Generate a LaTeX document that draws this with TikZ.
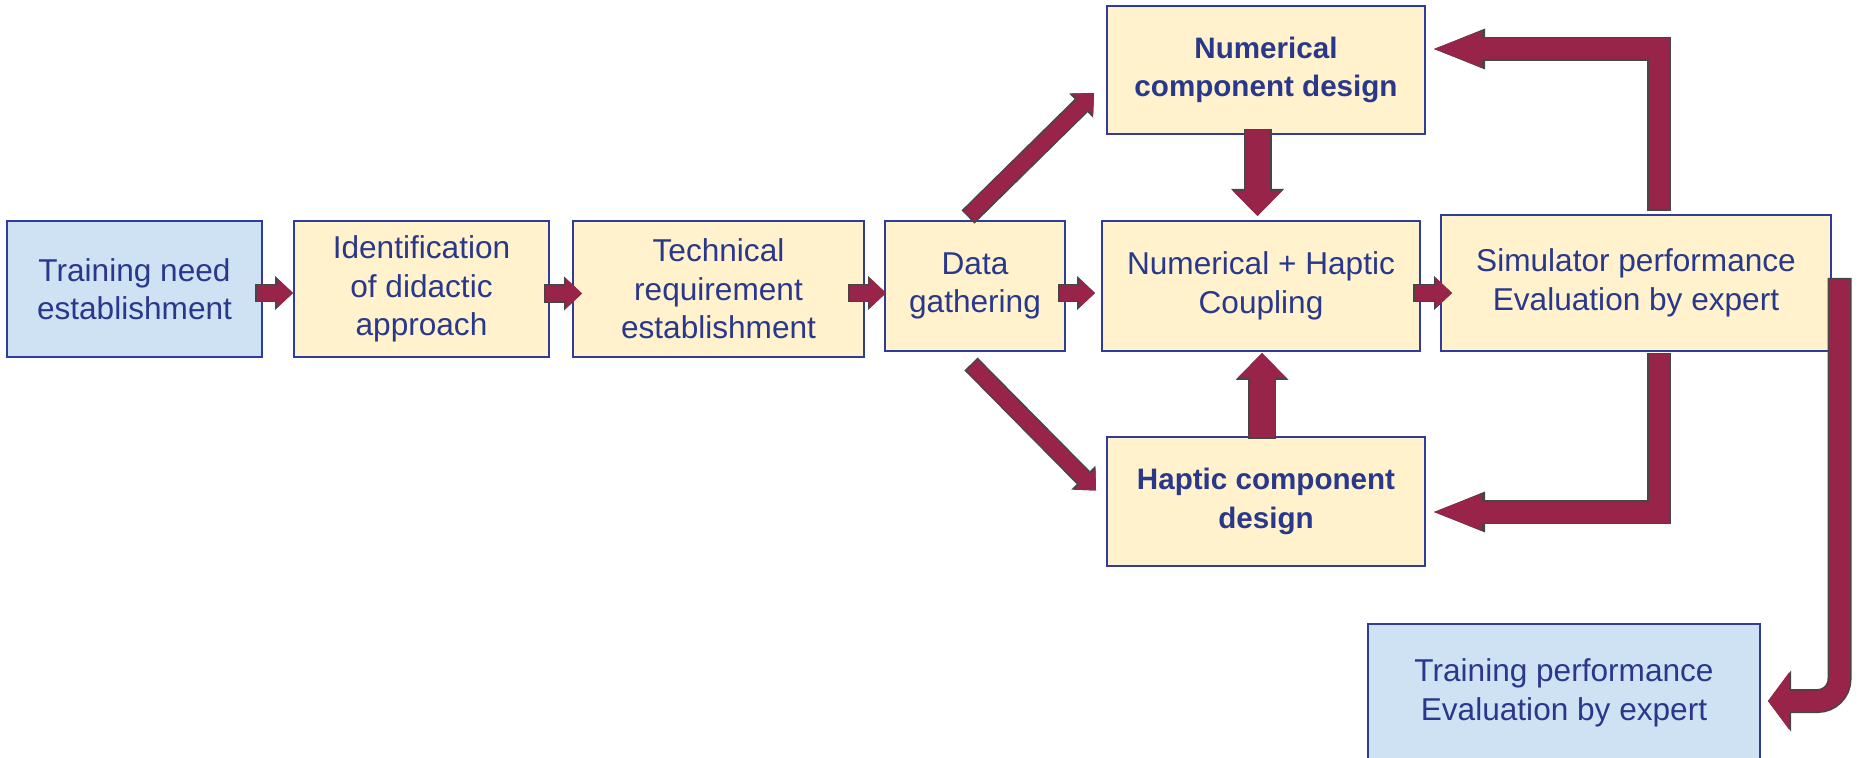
\documentclass[tikz,border=0pt]{standalone}
\usepackage{fontspec}
\setmainfont{Liberation Sans}
\usepackage{tikz}
\usetikzlibrary{arrows.meta}
\definecolor{stagebg}{RGB}{255,242,204}
\definecolor{endbg}{RGB}{207,226,243}
\definecolor{stageline}{RGB}{47,60,155}
\definecolor{stagetext}{RGB}{42,56,140}
\definecolor{flowred}{RGB}{152,36,74}
\definecolor{flowedge}{RGB}{70,70,70}
\tikzset{
  stage/.style={rectangle, draw=stageline, fill=stagebg, line width=1pt, inner sep=0pt,
                align=center, text=stagetext, font=\fontsize{15.8}{19.2}\selectfont},
  endpoint/.style={stage, fill=endbg},
  design/.style={stage, font=\bfseries\fontsize{14.8}{19.2}\selectfont},
}

\begin{document}
\begin{tikzpicture}[x=0.5pt, y=-0.5pt,
  % short block arrows along the main chain
  flow/.style={line width=7.75pt, draw=flowred, shorten <=0.75pt,
    -{Triangle[length=8pt, width=15pt, line width=0pt]},
    preaction={draw=flowedge, line width=9.25pt, shorten <=0pt,
      -{Triangle[length=9pt, width=17pt, line width=0pt]}}},
  % fat vertical arrows into the coupling box
  drop/.style={line width=12.5pt, draw=flowred, shorten <=0.75pt,
    -{Triangle[length=12.5pt, width=24.5pt, line width=0pt]},
    preaction={draw=flowedge, line width=14pt, shorten <=0pt,
      -{Triangle[length=13.5pt, width=26.5pt, line width=0pt]}}},
  % feedback loops back to the design boxes
  loop/.style={line width=10.5pt, draw=flowred, shorten <=0.75pt,
    -{Triangle[length=24pt, width=18.5pt, line width=0pt]},
    preaction={draw=flowedge, line width=12pt, shorten <=0pt,
      -{Triangle[length=25.5pt, width=20.5pt, line width=0pt]}}},
  bigloop/.style={line width=10.5pt, draw=flowred, shorten <=0.75pt, rounded corners=11pt,
    -{Triangle[length=10.5pt, width=28.5pt, line width=0pt]},
    preaction={draw=flowedge, line width=12pt, shorten <=0pt,
      -{Triangle[length=11.5pt, width=30.5pt, line width=0pt]}}},
]
  \useasboundingbox (0,0) rectangle (1861,758);

  % main chain
  \node[endpoint, minimum width=127.5pt, minimum height=68pt] (need) at (134.5,289) {Training need\\establishment};
  \node[stage, minimum width=127.5pt, minimum height=68pt] (didactic) at (421.5,289) {Identification\\of didactic\\approach};
  \node[stage, minimum width=145.5pt, minimum height=68pt] (techreq) at (718.5,289) {Technical\\requirement\\establishment};
  \node[stage, minimum width=90pt, minimum height=65pt] (data) at (975,286) {Data\\gathering};
  \node[stage, minimum width=159pt, minimum height=65pt] (coupling) at (1261,286) {Numerical + Haptic\\Coupling};
  \node[stage, minimum width=195pt, minimum height=68pt] (simeval) at (1636,283) {Simulator performance\\Evaluation by expert};

  % component design
  \node[design, minimum width=159pt, minimum height=64pt] (numdesign) at (1266,70) {Numerical\\component design};
  \node[design, minimum width=159pt, minimum height=64.5pt] (hapdesign) at (1266,501.5) {Haptic component\\design};

  \node[endpoint, minimum width=196pt, minimum height=69pt] (trainperf) at (1564,693) {Training performance\\Evaluation by expert};

  \draw[flow] ([shift={(-8,4)}]need.east) -- ([shift={(0,4)}]didactic.west);
  \draw[flow] ([shift={(-6,4.5)}]didactic.east) -- ([shift={(10,4.5)}]techreq.west);
  \draw[flow] ([shift={(-17,4)}]techreq.east) -- ([shift={(2,7)}]data.west);
  \draw[flow] ([shift={(-8,7)}]data.east) -- ([shift={(-6,7)}]coupling.west);
  \draw[flow] ([shift={(-8,7)}]coupling.east) -- ([shift={(12,10)}]simeval.west);

  \draw[flow] ([shift={(-7,-3)}]data.north) -- ([shift={(-12,23)}]numdesign.west);
  \draw[flow] ([shift={(-4,12)}]data.south) -- ([shift={(-10,-11)}]hapdesign.west);

  \draw[drop] ([shift={(-8.5,-6)}]numdesign.south) -- ([shift={(-3.5,-4)}]coupling.north);
  \draw[drop] ([shift={(-4,3)}]hapdesign.north) -- ([shift={(1,1)}]coupling.south);

  \draw[loop] ([shift={(23,-3)}]simeval.north) |- ([shift={(8,-21)}]numdesign.east);
  \draw[loop] ([shift={(23,1)}]simeval.south) |- ([shift={(8,10.5)}]hapdesign.east);
  \draw[bigloop] ([shift={(7.5,-5)}]simeval.east) |- ([shift={(7,8)}]trainperf.east);
\end{tikzpicture}
\end{document}
